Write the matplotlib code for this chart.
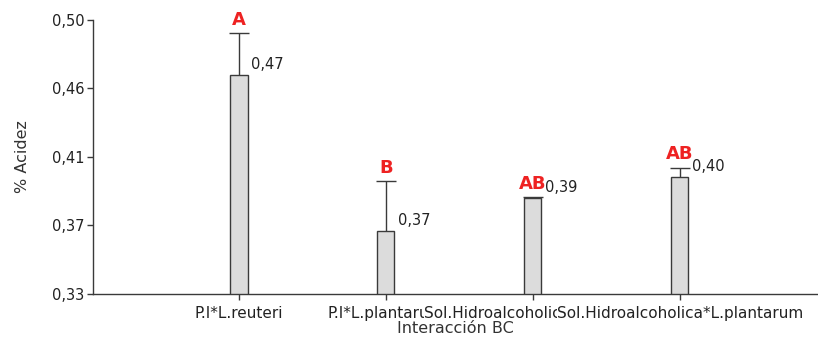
import matplotlib
matplotlib.use("Agg")
import matplotlib.pyplot as plt
from matplotlib.transforms import Bbox

categories = ["P.I*L.reuteri", "P.I*L.plantarum", "Sol.Hidroalcoholica*L.reuteri", "Sol.Hidroalcoholica*L.plantarum"]
values = [0.466, 0.369, 0.3897, 0.4024]
err_upper = [0.026, 0.031, 0.0006, 0.006]
value_labels = ["0,47", "0,37", "0,39", "0,40"]
letters = ["A", "B", "AB", "AB"]
yticks = [0.33, 0.3725, 0.415, 0.4575, 0.50]
ytick_labels = ["0,33", "0,37", "0,41", "0,46", "0,50"]

plt.rcParams['font.family'] = ['DejaVu Sans']
fig = plt.figure(figsize=(8.18, 3.45), dpi=100)
ax = fig.add_axes([0.1137, 0.148, 0.8863, 0.794])

x = list(range(len(categories)))
w = 0.116
edge = "#3a3a3a"
ax.bar(x, values, width=w, color="#dcdcdc", edgecolor=edge, linewidth=1.0, zorder=2)
eb = ax.errorbar(x, values, yerr=[[0]*len(values), err_upper], fmt="none", ecolor=edge,
                 elinewidth=1.0, capsize=7.2, capthick=1.0, zorder=3)
# hide the lower caps (only upper error shown)
eb[1][0].set_visible(False)

for xi, v, e, vl, lt in zip(x, values, err_upper, value_labels, letters):
    ax.annotate(vl, (xi + w/2, v), xytext=(2.5, 7.5), textcoords="offset points",
                ha="left", va="center", fontsize=10.5, color="#222222")
    ax.annotate(lt, (xi, v + e), xytext=(0, 9.5), textcoords="offset points",
                ha="center", va="center", fontsize=13, fontweight="bold", color="#ee2222")

ax.set_ylim(0.33, 0.50)
ax.set_xlim(-0.993, 3.939)
ax.set_yticks(yticks)
ax.set_yticklabels(ytick_labels)
ax.set_xticks(x)
ax.set_xticklabels(categories, fontsize=11)
ax.tick_params(axis="both", labelcolor="#222222", color=edge, length=4, width=1.0)
ax.tick_params(axis="y", labelsize=10.5, pad=2)
ax.tick_params(axis="x", pad=5)
for s in ["top", "right"]:
    ax.spines[s].set_visible(False)
for s in ["left", "bottom"]:
    ax.spines[s].set_color(edge)
    ax.spines[s].set_linewidth(1.0)
ax.set_ylabel("% Acidez", fontsize=11.5, color="#333333", labelpad=16)
ax.set_xlabel("Interacción BC", fontsize=11.5, color="#333333", labelpad=0)

# clip overlapping category labels like the original software
fig.canvas.draw()
r = fig.canvas.get_renderer()
tls = ax.get_xticklabels()
exts = [t.get_window_extent(r) for t in tls]
for i, t in enumerate(tls):
    if i < len(tls) - 1:
        right = exts[i + 1].x0
        bb = Bbox.from_extents(exts[i].x0 - 2, exts[i].y0 - 5, right, exts[i].y1 + 5)
        t.set_clip_box(bb)
        t.set_clip_on(True)

fig.savefig("out.png", dpi=100)
